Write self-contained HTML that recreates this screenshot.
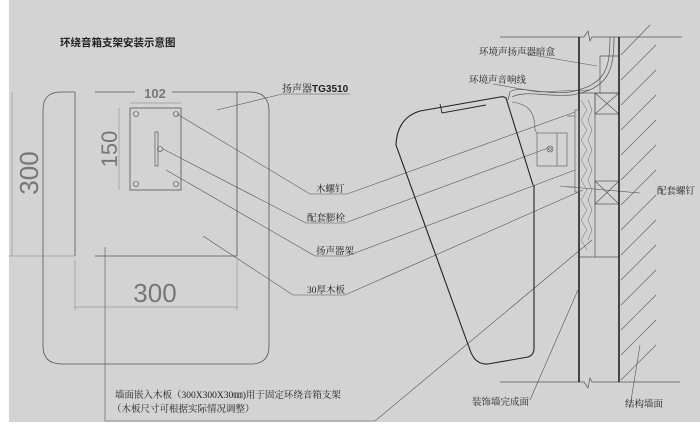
<!DOCTYPE html>
<html><head><meta charset="utf-8"><style>
html,body{margin:0;padding:0;background:#fff}
svg{display:block}
text{font-family:"Liberation Serif","Noto Serif CJK SC","Noto Sans CJK SC",serif;fill:#222}
</style></head><body>
<svg width="700" height="427" viewBox="0 0 700 427" xmlns="http://www.w3.org/2000/svg">
<rect x="9" y="0" width="691" height="422" fill="#d3d3d3"/>
<text x="60" y="46" font-size="10.5" font-weight="bold" style='font-family:"Liberation Sans","Noto Sans CJK SC",sans-serif'>环绕音箱支架安装示意图</text>
<g fill="none" stroke="#555" stroke-width="0.8">
<!-- big rounded rect -->
<path d="M95 92 H135 M172 92 H250 Q269 92 269 111 V346 Q269 364 251 364 H62 Q43 364 43 346 V110 Q43 92 61 92 H75"/>
<line x1="75" y1="92" x2="75" y2="256"/>
<line x1="237" y1="92" x2="237" y2="256"/>
<line x1="95" y1="256" x2="237" y2="256"/>
<rect x="130" y="108" width="51" height="82"/>
</g>
<g stroke="#999" stroke-width="0.7" fill="none">
<line x1="12" y1="92" x2="12" y2="256"/><line x1="9" y1="256" x2="75" y2="256"/>
<line x1="119" y1="108" x2="119" y2="190"/>
<line x1="130" y1="103" x2="181" y2="103"/>
<line x1="75" y1="307" x2="237" y2="307"/>
<line x1="75" y1="260" x2="75" y2="310"/><line x1="237" y1="260" x2="237" y2="310"/>
</g>
<text x="155" y="302" font-size="26" text-anchor="middle" fill="#777" style='font-family:"Liberation Sans",sans-serif;fill:#777'>300</text>
<text transform="translate(38,173) rotate(-90)" font-size="26" text-anchor="middle" style='font-family:"Liberation Sans",sans-serif;fill:#777'>300</text>
<text transform="translate(117,149) rotate(-90)" font-size="22" text-anchor="middle" style='font-family:"Liberation Sans",sans-serif;fill:#777'>150</text>
<text x="155" y="98" font-size="13" text-anchor="middle" style='font-family:"Liberation Sans",sans-serif;fill:#777;font-weight:bold'>102</text>
<g fill="none" stroke="#444" stroke-width="0.6">
<circle cx="136" cy="114" r="2.5"/><circle cx="176" cy="114" r="2.5"/><circle cx="136" cy="184" r="2.5"/><circle cx="176" cy="184" r="2.5"/>
<rect x="155" y="132" width="3" height="34"/><circle cx="160" cy="149" r="2.5"/>
</g>
<!-- leaders left -->
<g stroke="#555" stroke-width="0.6" fill="none">
<polyline points="217,110 282,94 350,94"/>
<polyline points="177,114 310,194 347,194 575,112"/>
<polyline points="163,149 306,223 345,223 548,148"/>
<polyline points="166,170 315,256 347,256 575,170"/>
<polyline points="203,236 293,295 345,295 583,190"/>
<polyline points="105,247 105,421 375,421 592,240"/>
<polyline points="530,400 578,290"/>
<polyline points="630,407 640,345"/>
<polyline points="640,193 560,186"/>
<polyline points="493,84 538,92 560,91 590,90"/>
<polyline points="521,53 597,66"/>
</g>
<text x="282" y="92" font-size="10">扬声器<tspan style='font-family:"Liberation Sans",sans-serif' font-weight="bold">TG3510</tspan></text>
<text x="316" y="192" font-size="9.5">木螺钉</text>
<text x="307" y="221" font-size="9.5">配套膨栓</text>
<text x="316" y="254" font-size="9.5">扬声器架</text>
<text x="307" y="293" font-size="9.5">30厚木板</text>
<text x="115" y="398" font-size="9.5">墙面嵌入木板（300X300X30㎜)用于固定环绕音箱支架</text>
<text x="112" y="412" font-size="9.5">（木板尺寸可根据实际情况调整）</text>
<text x="479" y="55" font-size="9.5">环境声扬声器暗盒</text>
<text x="469" y="83" font-size="9.5">环境声音响线</text>
<text x="657" y="194" font-size="9.5">配套螺钉</text>
<text x="472" y="405" font-size="9.5">装饰墙完成面</text>
<text x="625" y="407" font-size="9.5">结构墙面</text>
<!-- walls -->
<g stroke="#555" stroke-width="0.7" fill="none">
<polyline points="500,37 584,37 588,31 590,41 592,37 682,37"/>
<polyline points="500,382 584,382 588,388 590,378 592,382 680,382"/>
<line x1="595" y1="93" x2="595" y2="257"/>
<line x1="579" y1="257" x2="619" y2="257"/>
<rect x="595" y="93" width="24" height="21"/><line x1="595" y1="93" x2="619" y2="114"/><line x1="619" y1="93" x2="595" y2="114"/>
<rect x="595" y="181" width="24" height="23"/><line x1="595" y1="181" x2="619" y2="204"/><line x1="619" y1="181" x2="595" y2="204"/>
<polyline points="619,56 600,56 600,93"/>
<path d="M610 37 C610 70 605 85 570 92 C540 95 520 85 510 92 L508 100"/>
<path d="M614 37 C614 72 608 88 572 95 C545 97 525 90 512 97"/>
<line x1="579" y1="93" x2="619" y2="93"/>
</g>
<g stroke="#666" stroke-width="0.5" fill="none">
<path d="M581 100 L587 110 L581 120 L587 130 L581 140 L587 150 L581 160 L587 170 L581 180 L587 190 L581 200 L587 210 L581 220 L587 230 L581 240 L587 250"/>
<path d="M588 100 L592 110 L588 120 L592 130 L588 140 L592 150 L588 160 L592 170 L588 180 L592 190 L588 200 L592 210 L588 220 L592 230 L588 240"/>
</g>
<g stroke="#222" stroke-width="1.6">
<line x1="579" y1="37" x2="579" y2="382"/><line x1="619" y1="37" x2="619" y2="382"/>
</g>
<g stroke="#555" stroke-width="0.6">
<line x1="621" y1="55" x2="650" y2="25"/><line x1="621" y1="80" x2="656" y2="45"/><line x1="621" y1="105" x2="656" y2="70"/>
<line x1="621" y1="130" x2="656" y2="95"/><line x1="621" y1="155" x2="656" y2="120"/><line x1="621" y1="180" x2="656" y2="145"/>
<line x1="621" y1="205" x2="656" y2="170"/><line x1="621" y1="230" x2="656" y2="195"/><line x1="621" y1="255" x2="656" y2="220"/>
<line x1="621" y1="280" x2="656" y2="245"/><line x1="621" y1="305" x2="656" y2="270"/><line x1="621" y1="330" x2="656" y2="295"/>
<line x1="621" y1="355" x2="656" y2="320"/><line x1="621" y1="380" x2="656" y2="345"/>
</g>
<!-- speaker -->
<path d="M533 185 L506 98 Q503 96 500 97 L420 111 Q397 118 396 145 L470 350 Q475 365 488 364 L528 357 Q534 355 534 348 L534 185" fill="none" stroke="#222" stroke-width="1.1"/>
<polyline points="440,104 442,113 486,105" fill="none" stroke="#222" stroke-width="0.9"/>
<g fill="none" stroke="#555" stroke-width="0.6">
<path d="M512 102 C525 104 535 108 535 130 L537 133"/>
<rect x="537" y="133" width="30" height="33"/>
<line x1="557" y1="133" x2="557" y2="166"/>
<circle cx="550" cy="149" r="3"/><circle cx="550" cy="149" r="1.3"/>
<rect x="575" y="110" width="4" height="82"/>
<line x1="567" y1="116" x2="575" y2="116"/><line x1="567" y1="187" x2="575" y2="187"/>
</g>
</svg>
</body></html>
